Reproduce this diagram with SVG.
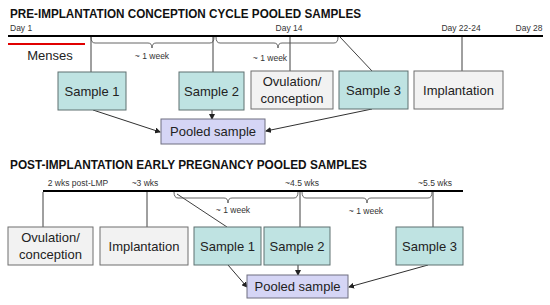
<svg xmlns="http://www.w3.org/2000/svg" width="550" height="305" viewBox="0 0 550 305">
<defs>
<marker id="ah" markerWidth="6" markerHeight="6" refX="5" refY="3" orient="auto" markerUnits="userSpaceOnUse">
<path d="M0,0 L6,3 L0,6 Z" fill="#222"/>
</marker>
<style>
.title{font-family:"Liberation Sans",Arial,sans-serif;font-weight:bold;font-size:12.5px;fill:#111}
.small{font-family:"Liberation Sans",Arial,sans-serif;font-size:8.5px;fill:#333}
.lbl{font-family:"Liberation Sans",Arial,sans-serif;font-size:13px;fill:#222;text-anchor:middle}
.teal{fill:#bfe3e2;stroke:#5f7070;stroke-width:1}
.gray{fill:#f2f2f2;stroke:#6f6f6f;stroke-width:1}
.pool{fill:#d5d5f5;stroke:#6f6f80;stroke-width:1}
.tl{stroke:#000;stroke-width:2;fill:none}
.conn{stroke:#404040;stroke-width:1;fill:none}
.arr{stroke:#303030;stroke-width:1;fill:none;marker-end:url(#ah)}
.brace{stroke:#555;stroke-width:0.9;fill:none}
</style>
</defs>
<rect width="550" height="305" fill="#fff"/>

<!-- Top section -->
<text class="title" x="10" y="18" textLength="351" lengthAdjust="spacingAndGlyphs">PRE-IMPLANTATION CONCEPTION CYCLE POOLED SAMPLES</text>
<text class="small" x="10" y="31">Day 1</text>
<text class="small" x="289" y="31" text-anchor="middle">Day 14</text>
<text class="small" x="461" y="31" text-anchor="middle">Day 22-24</text>
<text class="small" x="529" y="31" text-anchor="middle">Day 28</text>
<text class="small" x="152" y="59" text-anchor="middle">~ 1 week</text>
<text class="small" x="270" y="61" text-anchor="middle">~ 1 week</text>
<text class="lbl" x="50" y="60">Menses</text>

<!-- Bottom section labels -->
<text class="title" x="10" y="169" textLength="357" lengthAdjust="spacingAndGlyphs">POST-IMPLANTATION EARLY PREGNANCY POOLED SAMPLES</text>
<text class="small" x="78" y="186" text-anchor="middle">2 wks post-LMP</text>
<text class="small" x="145" y="186" text-anchor="middle">~3 wks</text>
<text class="small" x="302" y="186" text-anchor="middle">~4.5 wks</text>
<text class="small" x="435" y="186" text-anchor="middle">~5.5 wks</text>
<text class="small" x="233" y="213" text-anchor="middle">~ 1 week</text>
<text class="small" x="366" y="214" text-anchor="middle">~ 1 week</text>

<g id="connectors">
<!-- top timeline -->
<line class="tl" x1="8" y1="36" x2="543" y2="36"/>
<line x1="8" y1="44" x2="85" y2="44" stroke="#e00000" stroke-width="2"/>
<line class="conn" x1="91" y1="37" x2="91" y2="72"/>
<line class="conn" x1="213" y1="37" x2="213" y2="72"/>
<line class="conn" x1="290" y1="37" x2="290" y2="71"/>
<line class="conn" x1="340" y1="37" x2="372" y2="71"/>
<line class="conn" x1="462" y1="37" x2="462" y2="71"/>
<path class="brace" d="M91,37 Q91,43 95,43 L148,43 Q152,43 152,48 Q152,43 156,43 L210,43 Q214,43 214,37"/>
<path class="brace" d="M216,37 Q216,43 220,43 L274,43 Q278,43 278,48 Q278,43 282,43 L334,43 Q338,43 338,37"/>
<line class="arr" x1="93" y1="110" x2="160" y2="132"/>
<line class="arr" x1="212" y1="110" x2="212" y2="119"/>
<line class="arr" x1="372" y1="109" x2="266" y2="131"/>

<!-- bottom timeline -->
<line class="tl" x1="43" y1="191" x2="463" y2="191"/>
<line class="conn" x1="43" y1="192" x2="43" y2="227"/>
<line class="conn" x1="147" y1="192" x2="147" y2="227"/>
<line class="conn" x1="177" y1="194" x2="227" y2="227"/>
<line class="conn" x1="300" y1="192" x2="300" y2="227"/>
<line class="conn" x1="433" y1="192" x2="433" y2="227"/>
<path class="brace" d="M174,192 Q174,198 178,198 L224,198 Q228,198 228,203 Q228,198 232,198 L294,198 Q298,198 298,192"/>
<path class="brace" d="M302,192 Q302,198 306,198 L363,198 Q367,198 367,203 Q367,198 371,198 L428,198 Q432,198 432,192"/>
<line class="arr" x1="228" y1="265" x2="247" y2="287"/>
<line class="arr" x1="298" y1="265" x2="298" y2="275"/>
<line class="arr" x1="428" y1="265" x2="349" y2="287"/>
</g>

<!-- Top nodes -->
<g id="t-sample1"><rect class="teal" x="58" y="72" width="68" height="38"/><text class="lbl" x="92" y="95.5">Sample 1</text></g>
<g id="t-sample2"><rect class="teal" x="179" y="72" width="65" height="38"/><text class="lbl" x="211.5" y="95.5">Sample 2</text></g>
<g id="t-ovulation"><rect class="gray" x="251" y="71" width="82" height="38"/><text class="lbl" x="292" y="86">Ovulation/</text><text class="lbl" x="292" y="103">conception</text></g>
<g id="t-sample3"><rect class="teal" x="339" y="71" width="69" height="38"/><text class="lbl" x="373.5" y="94.5">Sample 3</text></g>
<g id="t-implantation"><rect class="gray" x="414" y="71" width="89" height="38"/><text class="lbl" x="458.5" y="94.5">Implantation</text></g>
<g id="t-pooled"><rect class="pool" x="161" y="119" width="104" height="25"/><text class="lbl" x="213" y="136">Pooled sample</text></g>

<!-- Bottom nodes -->
<g id="b-ovulation"><rect class="gray" x="8" y="227" width="85" height="38"/><text class="lbl" x="50.5" y="242">Ovulation/</text><text class="lbl" x="50.5" y="259">conception</text></g>
<g id="b-implantation"><rect class="gray" x="100" y="227" width="88" height="38"/><text class="lbl" x="144" y="250.5">Implantation</text></g>
<g id="b-sample1"><rect class="teal" x="194" y="227" width="67" height="38"/><text class="lbl" x="227.5" y="250.5">Sample 1</text></g>
<g id="b-sample2"><rect class="teal" x="264" y="227" width="66" height="38"/><text class="lbl" x="297" y="250.5">Sample 2</text></g>
<g id="b-sample3"><rect class="teal" x="396" y="227" width="67" height="38"/><text class="lbl" x="429.5" y="250.5">Sample 3</text></g>
<g id="b-pooled"><rect class="pool" x="247" y="275" width="101" height="23"/><text class="lbl" x="297.5" y="291">Pooled sample</text></g>
</svg>
